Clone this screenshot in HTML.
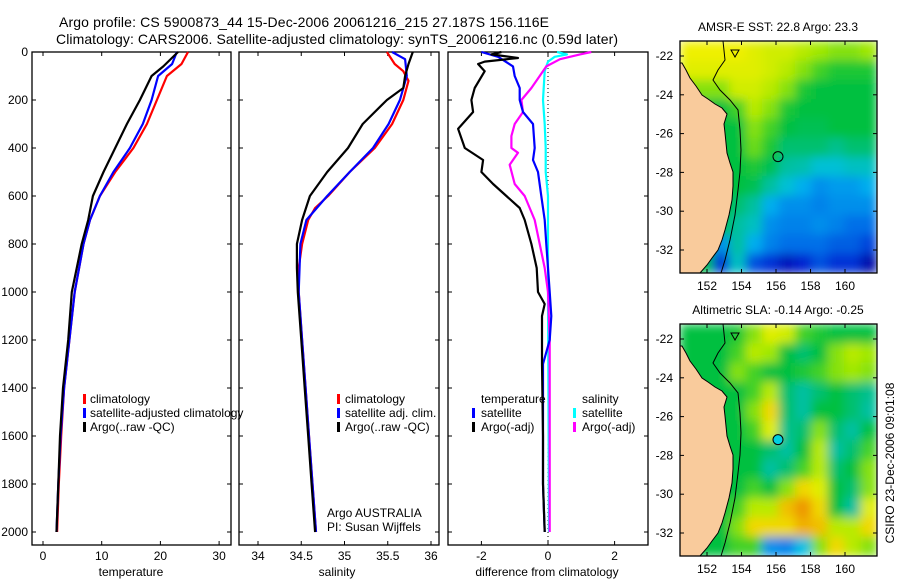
<!DOCTYPE html>
<html><head><meta charset="utf-8"><style>
html,body{margin:0;padding:0;background:#fff;}
svg{display:block;font-family:"Liberation Sans",sans-serif;}
</style></head><body>
<svg id="fig" width="900" height="580" viewBox="0 0 900 580">
<defs>
<filter id="smooth" x="0" y="0" width="1" height="1"><feGaussianBlur stdDeviation="5" edgeMode="duplicate"/></filter>
<clipPath id="clip1"><rect x="680" y="41" width="197" height="232"/></clipPath>
<clipPath id="clip2"><rect x="680" y="324" width="197" height="232"/></clipPath>
</defs>
<rect width="900" height="580" fill="#fff"/>
<text x="59" y="27" font-size="14" textLength="490">Argo profile: CS 5900873_44 15-Dec-2006 20061216_215 27.187S 156.116E</text>
<text x="56" y="44" font-size="14" textLength="562">Climatology: CARS2006. Satellite-adjusted climatology: synTS_20061216.nc (0.59d later)</text>
<g id="plots"></g>
</svg>
<script>
// ---------- profile data ----------
const tDepth = [0,50,100,200,300,400,500,600,700,800,1000,1200,1400,1600,1800,2000];
const tClim  = [24.7,23.6,21.1,19.4,17.7,15.4,12.3,9.7,8.0,6.9,5.4,4.5,3.6,3.1,2.7,2.4];
const tSat   = [22.8,22.0,19.6,18.5,17.0,14.8,12.0,9.7,8.0,6.9,5.4,4.5,3.6,3.0,2.6,2.3];
const tArgoDepth = [0,60,100,200,300,400,500,600,700,800,1000,1200,1400,1600,1800,2000];
const tArgo  = [23.0,20.5,18.5,16.5,14.3,12.3,10.3,8.5,7.7,6.6,4.9,4.3,3.4,2.9,2.6,2.3];

const sArgoDepth = [0,50,100,150,200,300,400,500,600,700,800,900,1000,1200,1400,1600,1800,2000];
const sArgo = [35.79,35.74,35.70,35.68,35.49,35.21,35.04,34.80,34.60,34.51,34.45,34.45,34.46,34.50,34.54,34.58,34.62,34.66];
const sClimDepth = [0,50,80,120,200,300,400,500,600,650,700,800,900,1000,1200,1400,1600,1800,2000];
const sClim = [35.49,35.58,35.68,35.74,35.68,35.55,35.35,35.06,34.81,34.66,34.58,34.51,34.47,34.47,34.51,34.55,34.59,34.63,34.67];
const sSatDepth = [0,30,100,200,300,400,500,600,700,800,1000,1200,1400,1600,1800,2000];
const sSat = [35.55,35.70,35.72,35.64,35.51,35.33,35.06,34.80,34.56,34.49,34.47,34.51,34.55,34.59,34.63,34.67];

const dTArgoDepth = [0,10,25,40,50,80,150,200,250,320,400,450,500,550,600,650,700,800,900,1000,1050,1100,1300,1600,1800,2000];
const dTArgo = [-1.4,-1.7,-0.9,-1.9,-2.1,-1.9,-2.2,-2.3,-2.25,-2.7,-2.5,-1.95,-2.0,-1.65,-1.25,-0.85,-0.7,-0.5,-0.34,-0.3,-0.1,-0.18,-0.18,-0.15,-0.15,-0.1];
const dTSatDepth = [0,20,60,100,150,200,250,300,400,450,500,600,700,800,1000,1100,1200,1300,1800,2000];
const dTSat = [-2.0,-1.5,-1.05,-1.0,-0.85,-0.85,-0.75,-0.45,-0.4,-0.45,-0.3,-0.2,-0.1,-0.05,0.05,0.1,0.05,-0.15,-0.15,-0.1];
const dSSatDepth = [0,10,20,40,80,200,300,400,500,600,800,1000,2000];
const dSSat = [0.27,0.57,0.2,0.0,-0.1,-0.15,-0.1,-0.07,-0.07,0.0,0.0,0.0,0.03];
const dSArgoDepth = [0,10,30,60,100,150,200,250,300,350,400,420,470,550,600,700,800,900,1000,1200,2000];
const dSArgo = [1.3,0.96,0.36,-0.05,-0.25,-0.5,-0.8,-0.75,-1.0,-1.1,-1.1,-0.9,-1.15,-1.0,-0.7,-0.4,-0.25,-0.1,0.0,0.05,0.05];

const depthTicks = [0,200,400,600,800,1000,1200,1400,1600,1800,2000];
const tempTicks = [0,10,20,30];
const salTicks = [34,34.5,35,35.5,36];
const salTickLabels = ["34","34.5","35","35.5","36"];
const diffTicks = [-2,0,2];

// ---------- map data (0..1 colour index, 12 cols x 12 rows, north to south) ----------
const sstGrid = [
[.82,.82,.82,.82,.8,.78,.78,.75,.72,.7,.7,.72],
[.8,.8,.8,.8,.8,.78,.75,.7,.65,.62,.62,.62],
[.7,.7,.7,.78,.78,.75,.7,.62,.6,.6,.6,.6],
[.6,.6,.6,.65,.75,.7,.62,.6,.6,.6,.6,.6],
[.6,.6,.6,.6,.7,.65,.6,.58,.58,.6,.6,.6],
[.6,.6,.6,.6,.68,.62,.55,.55,.55,.52,.55,.55],
[.6,.6,.6,.6,.62,.58,.5,.48,.42,.42,.45,.45],
[.6,.6,.6,.6,.58,.5,.42,.35,.3,.32,.32,.35],
[.6,.6,.6,.55,.5,.35,.3,.3,.28,.3,.3,.3],
[.6,.6,.6,.5,.45,.3,.28,.28,.3,.28,.25,.25],
[.6,.6,.3,.5,.35,.28,.25,.25,.25,.22,.22,.18],
[.6,.6,.15,.45,.2,.15,.08,.12,.2,.15,.15,.05]];
const slaGrid = [
[.6,.6,.6,.62,.7,.8,.78,.65,.62,.6,.6,.6],
[.6,.6,.6,.65,.75,.72,.6,.55,.6,.7,.75,.72],
[.6,.6,.6,.7,.65,.6,.6,.62,.65,.7,.72,.7],
[.6,.6,.6,.6,.65,.75,.55,.5,.55,.6,.55,.52],
[.6,.6,.6,.6,.7,.85,.55,.5,.6,.6,.55,.5],
[.6,.6,.6,.6,.65,.8,.52,.55,.7,.55,.5,.6],
[.6,.6,.6,.6,.6,.55,.5,.6,.75,.5,.55,.65],
[.6,.6,.6,.6,.6,.5,.55,.65,.75,.55,.6,.7],
[.6,.6,.6,.6,.65,.6,.7,.85,.8,.6,.55,.7],
[.6,.6,.6,.65,.75,.75,.88,.92,.85,.6,.5,.8],
[.6,.6,.6,.7,.85,.85,.85,.9,.88,.75,.75,.85],
[.6,.6,.6,.65,.65,.3,.28,.4,.7,.85,.75,.7]];
const lonTicks = [152,154,156,158,160];
const latTicks = [-22,-24,-26,-28,-30,-32];
const argoLon = 156.116, argoLat = -27.187;

const NS="http://www.w3.org/2000/svg";
const root=document.getElementById('plots');
function mk(tag,attrs,parent){const e=document.createElementNS(NS,tag);for(const k in attrs)e.setAttribute(k,attrs[k]);(parent||root).appendChild(e);return e;}

const yD = d => 52 + d*0.24;
const xT = v => 43 + v*5.87;
const xS = v => 258 + (v-34)*86.5;
const xDf = v => 548 + v*33.3;

function frame(x0,x1,y0,y1,name){
  const r=mk('rect',{x:x0,y:y0,width:x1-x0,height:y1-y0,fill:'none',stroke:'#000','stroke-width':1.3});
  
  
}
function line(xs,ds,xf,color,name){
  const pts=xs.map((v,i)=>xf(v).toFixed(1)+','+yD(ds[i]).toFixed(1)).join(' ');
  const p=mk('polyline',{points:pts,fill:'none',stroke:color,'stroke-width':2.2,'stroke-linejoin':'round'});
  
  
}
function txt(x,y,s,opts,name,parent){
  const t=mk('text',Object.assign({x:x,y:y,'font-size':12},opts||{}),parent);
  t.textContent=s;
  
  
  return t;
}
function xTicks(vals,labels,xf,x0,x1,y0,y1,name){
  vals.forEach((v,i)=>{
    const x=xf(v);
    mk('line',{x1:x,x2:x,y1:y1,y2:y1-4,stroke:'#000'});
    mk('line',{x1:x,x2:x,y1:y0,y2:y0+4,stroke:'#000'});
    txt(x,y1+15,labels[i],{'text-anchor':'middle'},name);
  });
}
function yTicksProf(x0,x1,label){
  depthTicks.forEach(d=>{
    const y=yD(d);
    mk('line',{x1:x0,x2:x0+4,y1:y,y2:y,stroke:'#000'});
    mk('line',{x1:x1,x2:x1-4,y1:y,y2:y,stroke:'#000'});
    if(label) txt(28,y+4,String(d),{'text-anchor':'end'},'depth-tick-label');
  });
}
function legMark(x,y,color){
  const r=mk('rect',{x:x,y:y-10,width:3,height:10,fill:color});
  
  
}

// Panel 1: temperature
frame(32,231,52,545,'temperature-axes');
yTicksProf(32,231,true);
xTicks(tempTicks,tempTicks.map(String),xT,32,231,52,545,'temperature-tick-label');
line(tClim,tDepth,xT,'#ff0000','temperature-climatology-line');
line(tSat,tDepth,xT,'#0000ff','temperature-satellite-line');
line(tArgo,tArgoDepth,xT,'#000000','temperature-argo-line');
txt(131,576,'temperature',{'text-anchor':'middle'},'temperature-axis-title');
legMark(83,404,'#ff0000');txt(90,403,'climatology',{},'legend-climatology');
legMark(83,418,'#0000ff');txt(90,417,'satellite-adjusted climatology',{},'legend-satellite-adjusted');
legMark(83,432,'#000');txt(90,431,'Argo(..raw -QC)',{},'legend-argo');

// Panel 2: salinity
frame(239,439,52,545,'salinity-axes');
yTicksProf(239,439,false);
xTicks(salTicks,salTickLabels,xS,239,439,52,545,'salinity-tick-label');
line(sClim,sClimDepth,xS,'#ff0000','salinity-climatology-line');
line(sSat,sSatDepth,xS,'#0000ff','salinity-satellite-line');
line(sArgo,sArgoDepth,xS,'#000000','salinity-argo-line');
txt(337,576,'salinity',{'text-anchor':'middle'},'salinity-axis-title');
legMark(337,404,'#ff0000');txt(345,403,'climatology',{},'legend-climatology-sal');
legMark(337,418,'#0000ff');txt(345,417,'satellite adj. clim.',{},'legend-satellite-sal');
legMark(337,432,'#000');txt(345,431,'Argo(..raw -QC)',{},'legend-argo-sal');
txt(327,517,'Argo AUSTRALIA',{},'argo-program-label');
txt(327,531,'PI: Susan Wijffels',{},'pi-label');

// Panel 3: differences
frame(448,648,52,545,'difference-axes');
yTicksProf(448,648,false);
xTicks(diffTicks,diffTicks.map(String),xDf,448,648,52,545,'difference-tick-label');
mk('line',{x1:xDf(0),x2:xDf(0),y1:52,y2:545,stroke:'#000','stroke-dasharray':'1,3'});
line(dSSat,dSSatDepth,xDf,'#00ffff','salinity-satellite-diff-line');
line(dSArgo,dSArgoDepth,xDf,'#ff00ff','salinity-argo-diff-line');
line(dTSat,dTSatDepth,xDf,'#0000ff','temperature-satellite-diff-line');
line(dTArgo,dTArgoDepth,xDf,'#000000','temperature-argo-diff-line');
txt(547,576,'difference from climatology',{'text-anchor':'middle'},'difference-axis-title');
txt(481,403,'temperature',{},'legend-temperature-header');
legMark(472,418,'#0000ff');txt(481,417,'satellite',{},'legend-temp-satellite');
legMark(472,432,'#000');txt(481,431,'Argo(-adj)',{},'legend-temp-argo');
txt(582,403,'salinity',{},'legend-salinity-header');
legMark(573,418,'#00ffff');txt(582,417,'satellite',{},'legend-sal-satellite');
legMark(573,432,'#ff00ff');txt(582,431,'Argo(-adj)',{},'legend-sal-argo');

// ---------- maps ----------
const cmap=[[0,[0,0,144]],[0.12,[0,32,208]],[0.25,[0,112,232]],[0.38,[0,192,240]],[0.5,[0,192,160]],[0.6,[0,192,64]],[0.72,[160,232,0]],[0.82,[240,240,0]],[0.9,[240,176,0]],[1,[224,48,0]]];
function col(v){
  for(let i=1;i<cmap.length;i++){if(v<=cmap[i][0]){const a=cmap[i-1],b=cmap[i];const f=(v-a[0])/(b[0]-a[0]);
    return 'rgb('+a[1].map((c,k)=>Math.round(c+(b[1][k]-c)*f)).join(',')+')';}}
  return 'rgb(224,48,0)';
}
function drawMap(grid,top,name,title,circleFill,clipId){
  const L=680,R=877,T=top,B=top+232;
  const xL = lon => 707 + (lon-152)*17.25;
  const yL = lat => (top+15) + (-22-lat)*19.4;
  const g=mk('g',{});
  
  
  const clipG=mk('g',{'clip-path':'url(#'+clipId+')'},g);
  const cells=mk('g',{filter:'url(#smooth)'},clipG);
  const nr=grid.length,nc=grid[0].length,cw=(R-L)/nc,ch=(B-T)/nr;
  grid.forEach((row,i)=>row.forEach((v,j)=>{
    const c=mk('rect',{x:(L+j*cw).toFixed(2),y:(T+i*ch).toFixed(2),width:(cw+0.6).toFixed(2),height:(ch+0.6).toFixed(2),fill:col(v)},cells);
    
    
  }));
  const gg=mk('g',{transform:'translate(0,'+(top-41)+')'},clipG);
  const land=mk('polygon',{points:'680,63 682,63 686,70 690,78 696,86 702,95 708,99 715,104 722,108 727,114 724,124 725,133 726,143 727,153 730,163 733,172 733,186 732,200 729,215 725,230 722,240 718,250 712,258 707,265 700,273 680,273',fill:'#f9cb9c',stroke:'#000','stroke-width':1},gg);
  
  
  const shelf=mk('polyline',{points:'723,41 725,60 718,70 713,80 720,90 730,100 738,110 740,130 741,150 740,172 738,190 735,215 730,240 725,260 721,273',fill:'none',stroke:'#000','stroke-width':1},gg);
  
  
  mk('polygon',{points:'731,50 739,50 735,57',fill:'none',stroke:'#000'},gg);
  const c=mk('circle',{cx:xL(argoLon),cy:yL(argoLat),r:5,fill:circleFill,stroke:'#000','stroke-width':1},g);
  
  
  mk('rect',{x:L,y:T,width:R-L,height:B-T,fill:'none',stroke:'#000','stroke-width':1.3},g);
  lonTicks.forEach(lo=>{const x=xL(lo);
    mk('line',{x1:x,x2:x,y1:B,y2:B-4,stroke:'#000'},g);mk('line',{x1:x,x2:x,y1:T,y2:T+4,stroke:'#000'},g);
    txt(x,B+17,String(lo),{'text-anchor':'middle'},'longitude-tick-label',g);});
  latTicks.forEach(la=>{const y=yL(la);
    mk('line',{x1:L,x2:L+4,y1:y,y2:y,stroke:'#000'},g);mk('line',{x1:R,x2:R-4,y1:y,y2:y,stroke:'#000'},g);
    txt(673,y+4,String(la),{'text-anchor':'end'},'latitude-tick-label',g);});
  txt(778,top-10,title,{'text-anchor':'middle'},name+'-title',g);
}
drawMap(sstGrid,41,'sst-map','AMSR-E SST: 22.8 Argo: 23.3','none','clip1');
drawMap(slaGrid,324,'sla-map','Altimetric SLA: -0.14 Argo: -0.25','#00d0e0','clip2');
const side=txt(0,0,'CSIRO 23-Dec-2006 09:01:08',{'text-anchor':'middle',transform:'translate(894,463) rotate(-90)'},'timestamp-label');
</script>
</body></html>
